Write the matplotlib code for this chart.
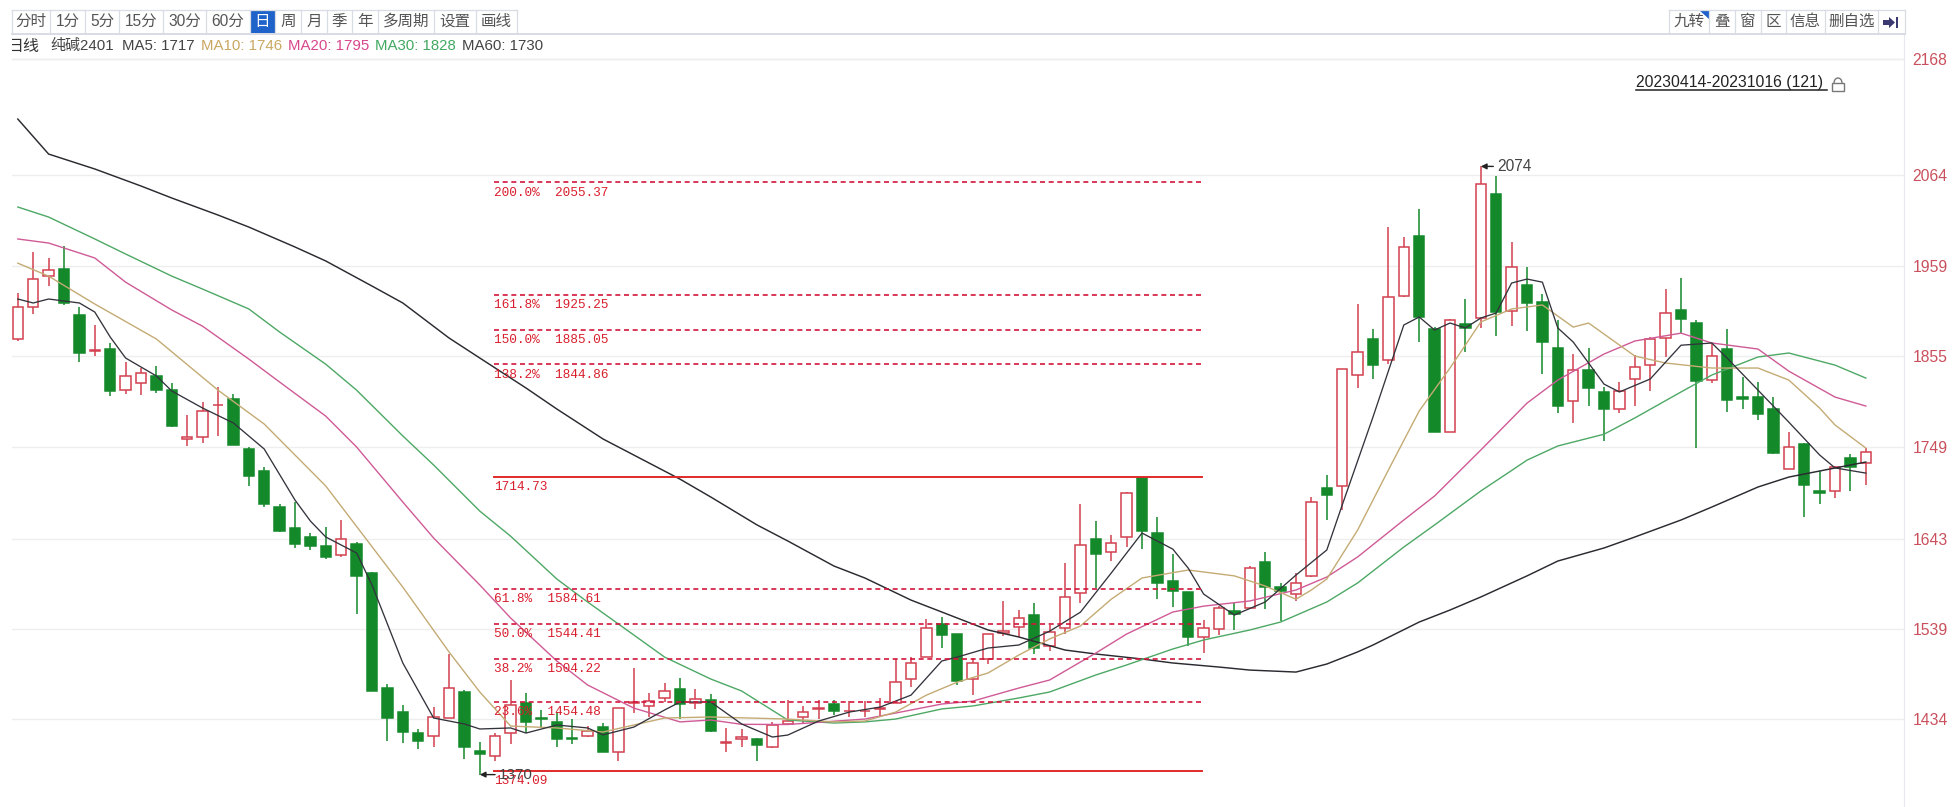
import matplotlib
matplotlib.use('Agg')
import matplotlib.pyplot as plt
from matplotlib.patches import Rectangle, Polygon, Arc

# daily candles
opens = [1873.8, 1910.9, 1947.5, 1955.6, 1902.4, 1860.3, 1862.3, 1815.6, 1822.9, 1831.4,
         1814.8, 1758.1, 1760.8, 1797.8, 1804.4, 1746.5, 1721.0, 1680.0, 1655.8, 1645.4,
         1635.0, 1623.8, 1636.9, 1603.0, 1470.6, 1442.1, 1418.5, 1414.7, 1435.1, 1466.0,
         1397.0, 1391.6, 1417.8, 1452.5, 1435.1, 1431.3, 1412.0, 1414.7, 1425.5, 1395.8,
         1453.2, 1449.4, 1458.3, 1468.7, 1452.5, 1456.4, 1406.6, 1410.8, 1410.8, 1401.6,
         1429.0, 1436.3, 1446.3, 1452.1, 1443.2, 1443.2, 1446.3, 1452.5, 1480.3, 1506.5,
         1544.3, 1532.8, 1480.3, 1504.2, 1533.5, 1540.9, 1554.7, 1518.9, 1539.3, 1579.8,
         1642.7, 1627.2, 1644.6, 1712.9, 1650.0, 1594.4, 1581.3, 1529.2, 1538.1, 1559.7,
         1563.2, 1615.7, 1587.1, 1578.6, 1600.2, 1701.7, 1704.5, 1832.2, 1874.3, 1850.0,
         1924.0, 1993.1, 1885.8, 1766.6, 1891.6, 1898.2, 2042.1, 1906.3, 1936.8, 1917.1,
         1863.8, 1802.9, 1838.4, 1812.9, 1793.2, 1827.6, 1844.2, 1875.0, 1908.2, 1893.2,
         1826.4, 1862.3, 1807.4, 1807.4, 1792.8, 1723.7, 1752.7, 1698.3, 1698.3, 1736.1,
         1731.1]
highs = [1927.8, 1975.3, 1967.6, 1981.9, 1910.9, 1890.4, 1870.0, 1847.6, 1840.3, 1843.0,
         1823.7, 1786.3, 1800.9, 1819.0, 1810.2, 1749.6, 1725.6, 1682.8, 1685.9, 1650.0,
         1657.0, 1664.7, 1639.6, 1604.9, 1474.9, 1450.6, 1422.4, 1447.9, 1509.6, 1468.0,
         1408.1, 1417.8, 1479.5, 1464.1, 1444.8, 1442.9, 1434.4, 1426.3, 1430.1, 1447.5,
         1493.8, 1464.1, 1475.7, 1482.2, 1469.1, 1463.3, 1423.6, 1422.4, 1412.0, 1431.3,
         1456.4, 1449.8, 1456.4, 1456.4, 1455.2, 1455.6, 1458.3, 1503.8, 1505.7, 1549.7,
         1552.0, 1532.8, 1504.6, 1532.8, 1571.3, 1560.5, 1568.2, 1543.2, 1614.5, 1682.8,
         1663.5, 1646.9, 1697.4, 1714.8, 1667.7, 1624.9, 1581.3, 1548.9, 1565.5, 1569.0,
         1611.4, 1627.2, 1592.1, 1603.7, 1691.7, 1716.7, 1839.9, 1914.4, 1885.8, 2003.5,
         1991.9, 2024.3, 1888.5, 1897.4, 1920.5, 2074.0, 2062.9, 1986.9, 1957.6, 1926.3,
         1896.2, 1856.5, 1864.2, 1818.3, 1824.9, 1855.7, 1876.9, 1932.1, 1944.5, 1896.2,
         1869.2, 1885.8, 1829.8, 1824.8, 1807.4, 1766.2, 1753.4, 1721.4, 1727.2, 1740.7,
         1747.7]
lows = [1872.3, 1903.2, 1935.9, 1913.6, 1848.0, 1854.2, 1808.2, 1811.0, 1809.4, 1812.0,
        1772.0, 1750.4, 1753.5, 1762.3, 1751.9, 1704.1, 1680.0, 1651.0, 1632.3, 1630.0,
        1619.2, 1621.5, 1555.5, 1466.8, 1408.5, 1407.0, 1399.3, 1401.6, 1435.1, 1387.7,
        1370.0, 1386.1, 1405.4, 1417.8, 1425.5, 1402.4, 1405.4, 1413.2, 1395.8, 1386.1,
        1440.9, 1437.1, 1454.4, 1434.4, 1445.6, 1419.7, 1396.6, 1402.4, 1386.1, 1400.4,
        1429.4, 1430.1, 1434.0, 1439.0, 1437.0, 1437.0, 1436.3, 1452.5, 1471.8, 1506.5,
        1516.2, 1473.7, 1462.1, 1497.6, 1530.4, 1528.9, 1509.6, 1513.5, 1532.8, 1568.2,
        1585.6, 1617.6, 1633.0, 1630.7, 1572.8, 1564.3, 1518.8, 1511.1, 1531.5, 1537.3,
        1563.2, 1561.3, 1547.4, 1570.9, 1599.0, 1664.7, 1676.0, 1817.1, 1827.6, 1845.3,
        1922.9, 1870.4, 1766.6, 1766.6, 1859.6, 1886.6, 1878.1, 1889.7, 1883.9, 1833.4,
        1788.2, 1776.6, 1797.1, 1756.2, 1789.0, 1797.1, 1814.1, 1853.8, 1881.6, 1747.7,
        1823.0, 1790.1, 1793.2, 1781.0, 1740.7, 1723.7, 1667.8, 1682.8, 1689.8, 1698.3,
        1705.2]
closes = [1910.9, 1943.7, 1954.1, 1915.5, 1858.4, 1861.1, 1814.0, 1831.0, 1835.2, 1815.6,
          1773.9, 1760.8, 1790.9, 1798.2, 1751.9, 1716.0, 1683.2, 1651.9, 1637.3, 1634.6,
          1622.3, 1642.3, 1600.3, 1466.8, 1435.1, 1418.9, 1408.5, 1437.1, 1469.9, 1402.4,
          1393.9, 1414.7, 1450.2, 1431.3, 1434.0, 1411.6, 1411.0, 1420.9, 1396.6, 1447.5,
          1453.9, 1455.2, 1467.1, 1451.7, 1457.5, 1420.5, 1407.2, 1413.9, 1404.3, 1427.0,
          1432.0, 1442.5, 1447.5, 1444.0, 1443.8, 1443.8, 1446.9, 1477.2, 1499.6, 1539.7,
          1531.6, 1478.4, 1499.6, 1532.8, 1536.2, 1550.9, 1516.9, 1534.7, 1575.2, 1636.1,
          1625.3, 1637.6, 1696.3, 1651.9, 1591.4, 1582.5, 1529.2, 1539.3, 1562.4, 1555.5,
          1609.5, 1586.7, 1582.1, 1591.4, 1685.1, 1693.6, 1839.9, 1859.2, 1843.8, 1922.9,
          1980.7, 1900.1, 1766.6, 1896.2, 1886.6, 2053.6, 1905.9, 1957.2, 1916.3, 1870.4,
          1796.3, 1838.4, 1817.2, 1793.2, 1814.1, 1842.2, 1873.9, 1904.7, 1897.4, 1826.0,
          1854.2, 1803.7, 1804.4, 1787.4, 1742.6, 1749.2, 1705.2, 1696.3, 1725.7, 1726.4,
          1743.0]

# moving averages, read at the candle numbers in the *_x lists
ma5_x = [0, 1, 2, 4, 5, 6, 7, 9, 10, 12, 14, 16, 18, 19, 20, 22, 23, 25, 27, 29, 30, 32, 33, 35, 37, 38,
         40, 42, 43, 45, 47, 49, 50, 52, 54, 56, 58, 60, 61, 63, 65, 67, 69, 71, 73, 75, 76, 77, 79, 81,
         83, 85, 86, 88, 90, 91, 92, 93, 94, 95, 96, 97, 98, 99, 100, 101, 103, 104, 106, 108, 110, 111,
         113, 115, 117, 118, 120]
ma5 = [1920.5, 1915.9, 1920.5, 1915.9, 1905.4, 1876.5, 1852.2, 1831.4, 1814.0, 1794.3, 1777.0, 1746.9,
       1687.8, 1663.5, 1645.0, 1626.5, 1589.5, 1499.2, 1435.5, 1428.6, 1422.8, 1424.0, 1418.1, 1427.4,
       1424.0, 1416.0, 1425.0, 1444.8, 1454.0, 1454.0, 1428.6, 1413.5, 1415.8, 1432.0, 1442.4, 1448.2,
       1462.0, 1501.5, 1506.0, 1516.5, 1520.0, 1536.0, 1558.0, 1603.3, 1649.6, 1631.0, 1609.0, 1579.0,
       1554.7, 1569.8, 1601.0, 1630.0, 1682.0, 1784.0, 1890.4, 1899.7, 1884.6, 1892.7, 1887.0, 1898.5,
       1904.3, 1939.0, 1943.6, 1940.0, 1887.0, 1870.7, 1822.0, 1812.9, 1827.9, 1867.0, 1869.6, 1852.0,
       1815.0, 1778.0, 1740.0, 1725.0, 1719.0]
ma10_x = [0, 2, 5, 9, 13, 16, 20, 25, 28, 30, 32, 35, 38, 40, 42, 45, 50, 53, 55, 57, 59, 61, 63, 65, 67,
          69, 71, 73, 76, 79, 81, 83, 84, 85, 87, 89, 91, 93, 95, 97, 99, 101, 102, 105, 107, 110, 113,
          115, 117, 118, 120]
ma10 = [1962.0, 1947.0, 1914.7, 1874.2, 1815.0, 1775.8, 1704.0, 1587.0, 1512.0, 1465.6, 1426.2, 1424.0,
        1419.3, 1427.4, 1435.5, 1436.7, 1434.3, 1431.0, 1432.0, 1442.4, 1462.0, 1477.0, 1487.6, 1508.4,
        1527.0, 1542.0, 1573.0, 1597.6, 1606.8, 1600.0, 1588.3, 1573.0, 1583.7, 1596.4, 1653.0, 1722.6,
        1790.9, 1840.6, 1893.9, 1909.0, 1913.6, 1888.0, 1892.7, 1854.5, 1846.4, 1840.6, 1840.6, 1826.7,
        1794.3, 1774.7, 1748.0]
ma20_x = [0, 2, 5, 7, 10, 12, 15, 17, 20, 22, 25, 27, 30, 32, 35, 37, 40, 43, 45, 47, 50, 55, 60, 62, 65,
          67, 70, 72, 75, 77, 80, 83, 85, 87, 90, 92, 95, 98, 100, 103, 105, 108, 110, 113, 115, 118, 120]
ma20 = [1990.0, 1985.3, 1968.0, 1940.0, 1907.8, 1889.0, 1851.0, 1824.4, 1784.9, 1749.2, 1685.5, 1643.9,
        1589.5, 1551.3, 1501.5, 1473.7, 1447.0, 1431.0, 1433.2, 1428.2, 1428.0, 1434.3, 1451.7, 1455.0,
        1470.2, 1479.5, 1510.7, 1532.7, 1558.2, 1565.0, 1571.0, 1583.7, 1598.7, 1621.9, 1664.7, 1692.5,
        1745.7, 1800.0, 1826.7, 1856.8, 1871.9, 1881.0, 1869.6, 1862.6, 1837.0, 1807.0, 1796.6]
ma30_x = [0, 2, 5, 7, 10, 12, 15, 17, 20, 22, 25, 27, 30, 32, 35, 37, 40, 42, 45, 47, 50, 53, 55, 57, 60,
          62, 65, 67, 70, 72, 75, 77, 80, 82, 85, 87, 90, 92, 95, 97, 98, 100, 103, 105, 108, 110, 113, 115,
          118, 120]
ma30 = [2027.0, 2015.4, 1990.0, 1972.6, 1947.0, 1932.0, 1909.0, 1882.3, 1845.0, 1815.0, 1762.0, 1728.4,
        1675.0, 1646.0, 1596.4, 1569.8, 1531.6, 1506.0, 1480.6, 1466.8, 1433.2, 1429.7, 1431.0, 1434.3,
        1446.0, 1449.4, 1458.7, 1465.6, 1485.3, 1496.9, 1515.4, 1525.8, 1537.4, 1546.6, 1569.8, 1591.8,
        1633.4, 1659.0, 1698.3, 1722.0, 1734.0, 1750.4, 1764.0, 1782.8, 1812.9, 1832.5, 1853.4, 1858.0,
        1844.0, 1829.0]
ma60_x = [0, 2, 5, 8, 10, 13, 15, 18, 20, 23, 25, 28, 30, 33, 35, 38, 40, 43, 45, 48, 50, 53, 55, 58, 60,
          63, 65, 68, 70, 73, 75, 78, 80, 83, 85, 87, 88, 91, 93, 95, 98, 100, 103, 105, 108, 110, 113, 115,
          118, 120]
ma60 = [2128.8, 2088.3, 2071.0, 2051.3, 2037.4, 2017.7, 2003.8, 1980.7, 1964.5, 1935.5, 1915.9, 1875.4,
        1852.2, 1817.5, 1793.2, 1758.5, 1739.9, 1712.0, 1691.3, 1659.0, 1640.4, 1611.4, 1597.6, 1572.0,
        1558.2, 1537.4, 1529.3, 1514.2, 1509.6, 1503.8, 1499.2, 1494.5, 1491.0, 1488.7, 1498.0, 1512.0,
        1520.0, 1546.6, 1560.5, 1575.6, 1600.0, 1617.2, 1632.3, 1645.0, 1664.7, 1679.7, 1702.9, 1714.4,
        1724.9, 1731.8]

# golden section levels drawn on the chart
fib_dashed = [2055.37, 1925.25, 1885.05, 1844.86, 1584.61, 1544.41, 1504.22, 1454.48]
fib_dashed_labels = ['200.0%  2055.37', '161.8%  1925.25', '150.0%  1885.05', '138.2%  1844.86',
                     '61.8%  1584.61', '50.0%  1544.41', '38.2%  1504.22', '23.6%  1454.48']
fib_solid = [1714.73, 1374.09]
fib_solid_labels = ['1714.73', '1374.09']

# the 2168 row sits higher on the screenshot than its number would put it
tick_pos = [2198.3, 2064, 1959, 1855, 1749, 1643, 1539, 1434]
tick_labels = ['2168', '2064', '1959', '1855', '1749', '1643', '1539', '1434']

left_buttons = ['分时', '1分', '5分', '15分', '30分', '60分', '日', '周', '月', '季', '年', '多周期', '设置', '画线']
left_edges = [12, 50, 85, 119, 163, 206, 250, 275, 301, 327, 352, 378, 434.5, 476, 517]
right_buttons = ['九转', '叠', '窗', '区', '信息', '删自选', '']
right_edges = [1669, 1709, 1735, 1761, 1786, 1825, 1878, 1905]

legend_text = ['纯碱2401', 'MA5: 1717', 'MA10: 1746', 'MA20: 1795', 'MA30: 1828', 'MA60: 1730']
legend_x = [50, 122, 201, 288, 375, 462]
legend_col = ['#444444', '#444444', '#c9a860', '#d8478c', '#42a862', '#444444']

plt.rcParams['font.family'] = ['Liberation Sans', 'Noto Sans CJK SC', 'DejaVu Sans']

RED = '#d2404f'
GREEN = '#14892a'
W, H = 1955, 807

fig = plt.figure(figsize=(W / 100, H / 100), dpi=100, facecolor='white')

# chart area: x 12-1904, y 35-807 in pixels
ax = fig.add_axes([12 / W, 0, (1904 - 12) / W, (H - 35) / H])
ax.set_xlim(-0.377, 122.48)
ax.set_ylim(1332.5, 2226.1)
for s in ['top', 'left', 'bottom']:
    ax.spines[s].set_visible(False)
ax.spines['right'].set_color('#e6e8ee')
ax.set_xticks([])
ax.yaxis.tick_right()
ax.set_yticks(tick_pos)
ax.set_yticklabels(tick_labels, color='#c9505c', fontsize=11.3)
ax.tick_params(axis='y', length=0, pad=6)
ax.grid(axis='y', color='#eeeeee', lw=1)
ax.set_axisbelow(True)

# candles
idx = list(range(len(opens)))
for i in idx:
    up = closes[i] >= opens[i]
    col = RED if up else GREEN
    ax.vlines(i, lows[i], highs[i], color=col, lw=1.1, zorder=2)
    ax.bar(i, abs(closes[i] - opens[i]), bottom=min(opens[i], closes[i]), width=0.68,
           facecolor='white' if up else GREEN, edgecolor=col, lw=1.1, zorder=2.5)

# moving averages
ax.plot(ma60_x, ma60, color='#2a2a30', lw=1.05, zorder=3)
ax.plot(ma30_x, ma30, color='#4da865', lw=1.0, zorder=3)
ax.plot(ma20_x, ma20, color='#cf5a96', lw=1.0, zorder=3)
ax.plot(ma10_x, ma10, color='#c4ab74', lw=1.0, zorder=3)
ax.plot(ma5_x, ma5, color='#33333c', lw=0.95, zorder=3.1)

# golden section lines stop at candles 30.9 and 77
for lv, txt in zip(fib_dashed, fib_dashed_labels):
    ax.plot([30.9, 76.9], [lv, lv], color='#d3163c', lw=1.2, dashes=(3, 2.2), zorder=3.5)
    ax.annotate(txt, (30.9, lv), xytext=(0, -3), textcoords='offset points', va='top',
                family=['Liberation Mono'], fontsize=9.2, color='#d81e2c', zorder=5)
for lv, txt in zip(fib_solid, fib_solid_labels):
    ax.plot([30.9, 76.9], [lv, lv], color='#df2a2a', lw=1.4, zorder=3.5)
    ax.annotate(txt, (30.9, lv), xytext=(0, -3), textcoords='offset points', va='top',
                family=['Liberation Mono'], fontsize=9.2, color='#d81e2c', zorder=5)

# high and low markers
ax.annotate('2074', xy=(95, highs[95]), xytext=(12, 0), textcoords='offset points', va='center',
            fontsize=11.2, color='#444444', zorder=6,
            arrowprops=dict(arrowstyle='-|>,head_width=0.15,head_length=0.3', color='#222222', lw=1, shrinkA=1, shrinkB=0))
ax.annotate('1370', xy=(30, lows[30]), xytext=(14, 0), textcoords='offset points', va='center',
            fontsize=11, color='#444444', zorder=6,
            arrowprops=dict(arrowstyle='-|>,head_width=0.15,head_length=0.3', color='#222222', lw=1, shrinkA=1, shrinkB=0))

# toolbars and captions use a pixel overlay
ui = fig.add_axes([0, 0, 1, 1], facecolor='none')
ui.set_xlim(0, W)
ui.set_ylim(H, 0)
ui.axis('off')

ui.plot([12, 1905], [33.5, 33.5], color='#d8dce4', lw=1.4)
ui.plot([12, 1904], [59, 59], color='#eeeeee', lw=1)


def buttons(labels, edges, selected=None):
    for n, lab in enumerate(labels):
        x0, x1 = edges[n], edges[n + 1]
        if n == selected:
            ui.add_patch(Rectangle((x0, 10), x1 - x0, 23, facecolor='#1f62c9', edgecolor='none'))
        if lab:
            ui.text((x0 + x1) / 2, 21.5, lab, ha='center', va='center', fontsize=11.2,
                    color='white' if n == selected else '#555555')
    ui.plot([edges[0], edges[-1]], [9.5, 9.5], color='#d8dce4', lw=0.9)
    for e in edges:
        ui.plot([e, e], [9.5, 33.5], color='#d8dce4', lw=0.9)


buttons(left_buttons, left_edges, selected=6)
buttons(right_buttons, right_edges)
ui.add_patch(Polygon([[1699, 9.5], [1709, 9.5], [1709, 19]], facecolor='#1f62c9', edgecolor='none'))

# collapse arrow on the last button
ui.add_patch(Polygon([[1883, 20], [1889, 20], [1889, 17], [1895, 22.5], [1889, 28], [1889, 25], [1883, 25]],
                     facecolor='#3a3a70', edgecolor='none'))
ui.add_patch(Rectangle((1896, 17), 2, 11, facecolor='#3a3a70', edgecolor='none'))

# caption row, the first character is cut by the page edge
ui.text(7, 46, '日线', ha='left', va='center', fontsize=11.5, color='#333333')
ui.add_patch(Rectangle((0, 36), 12.5, 20, facecolor='white', edgecolor='none', zorder=5))
for t, x, c in zip(legend_text, legend_x, legend_col):
    ui.text(x, 46, t, ha='left', va='center', fontsize=10.8, color=c)

# date range with lock icon
ui.text(1636, 82.5, '20230414-20231016 (121)', ha='left', va='center', fontsize=11.3, color='#222222')
ui.plot([1636, 1827], [90, 90], color='#222222', lw=1.1)
ui.add_patch(Rectangle((1832, 83), 12, 7.5, facecolor='none', edgecolor='#777777', lw=1))
ui.add_patch(Arc((1838, 83), 8, 10, theta1=180, theta2=360, edgecolor='#777777', lw=1))

fig.savefig('out.png', dpi=100)
